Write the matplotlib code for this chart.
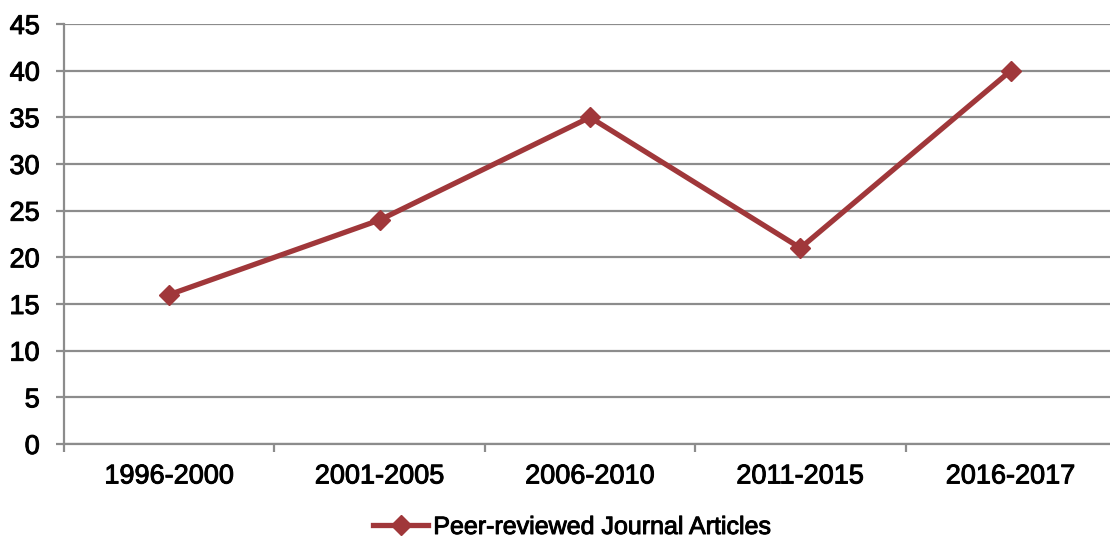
import matplotlib
matplotlib.use("Agg")
import matplotlib.pyplot as plt
from matplotlib.lines import Line2D
import matplotlib.patheffects as pe

categories = ["1996-2000", "2001-2005", "2006-2010", "2011-2015", "2016-2017"]
values = [16, 24, 35, 21, 40]
series_name = "Peer-reviewed Journal Articles"
yticks = [0, 5, 10, 15, 20, 25, 30, 35, 40, 45]

plt.rcParams['font.family'] = ['Liberation Sans', 'DejaVu Sans']

color = "#A0373A"
gridc = "#8c8c8c"
bold = [pe.withStroke(linewidth=0.7, foreground="black")]

fig = plt.figure(figsize=(11.1, 5.42), dpi=100)
ax = fig.add_axes([64/1110, 1-444/542, (1116-64)/1110, (444-24)/542])

x = list(range(len(categories)))
ax.plot(x, values, color=color, lw=3.8, marker="D", ms=10, mec=color, mfc=color, solid_joinstyle="miter")
ax.set_xlim(-0.5, len(categories) - 0.5)
ax.set_ylim(0, 45)
ax.set_yticks(yticks)
ax.set_yticklabels([str(v) for v in yticks], fontsize=19.5)
ax.set_xticks(x)
ax.set_xticklabels(categories, fontsize=19.5)
ax.set_xticks([i - 0.5 for i in range(len(categories) + 1)], minor=True)
ax.tick_params(axis='x', which='major', length=0, pad=14)
ax.tick_params(axis='x', which='minor', length=6, width=1.6, color=gridc)
ax.tick_params(axis='y', length=6, width=1.6, color=gridc, pad=11.5)
ax.yaxis.grid(True, color=gridc, lw=1.6)
ax.set_axisbelow(True)
for s in ["top", "right"]:
    ax.spines[s].set_visible(False)
for s in ["left", "bottom"]:
    ax.spines[s].set_color(gridc)
    ax.spines[s].set_linewidth(1.6)
for t in ax.get_xticklabels() + ax.get_yticklabels():
    t.set_path_effects(bold)

handle = Line2D([], [], color=color, lw=3.8, marker="D", ms=10, mec=color, mfc=color)
leg = fig.legend([handle], [series_name], loc="center", bbox_to_anchor=(572/1110, 1-527/542),
                 frameon=False, fontsize=18, handlelength=2.2, handletextpad=0.2)
for t in leg.get_texts():
    t.set_path_effects(bold)

fig.savefig("out.png", dpi=100)
